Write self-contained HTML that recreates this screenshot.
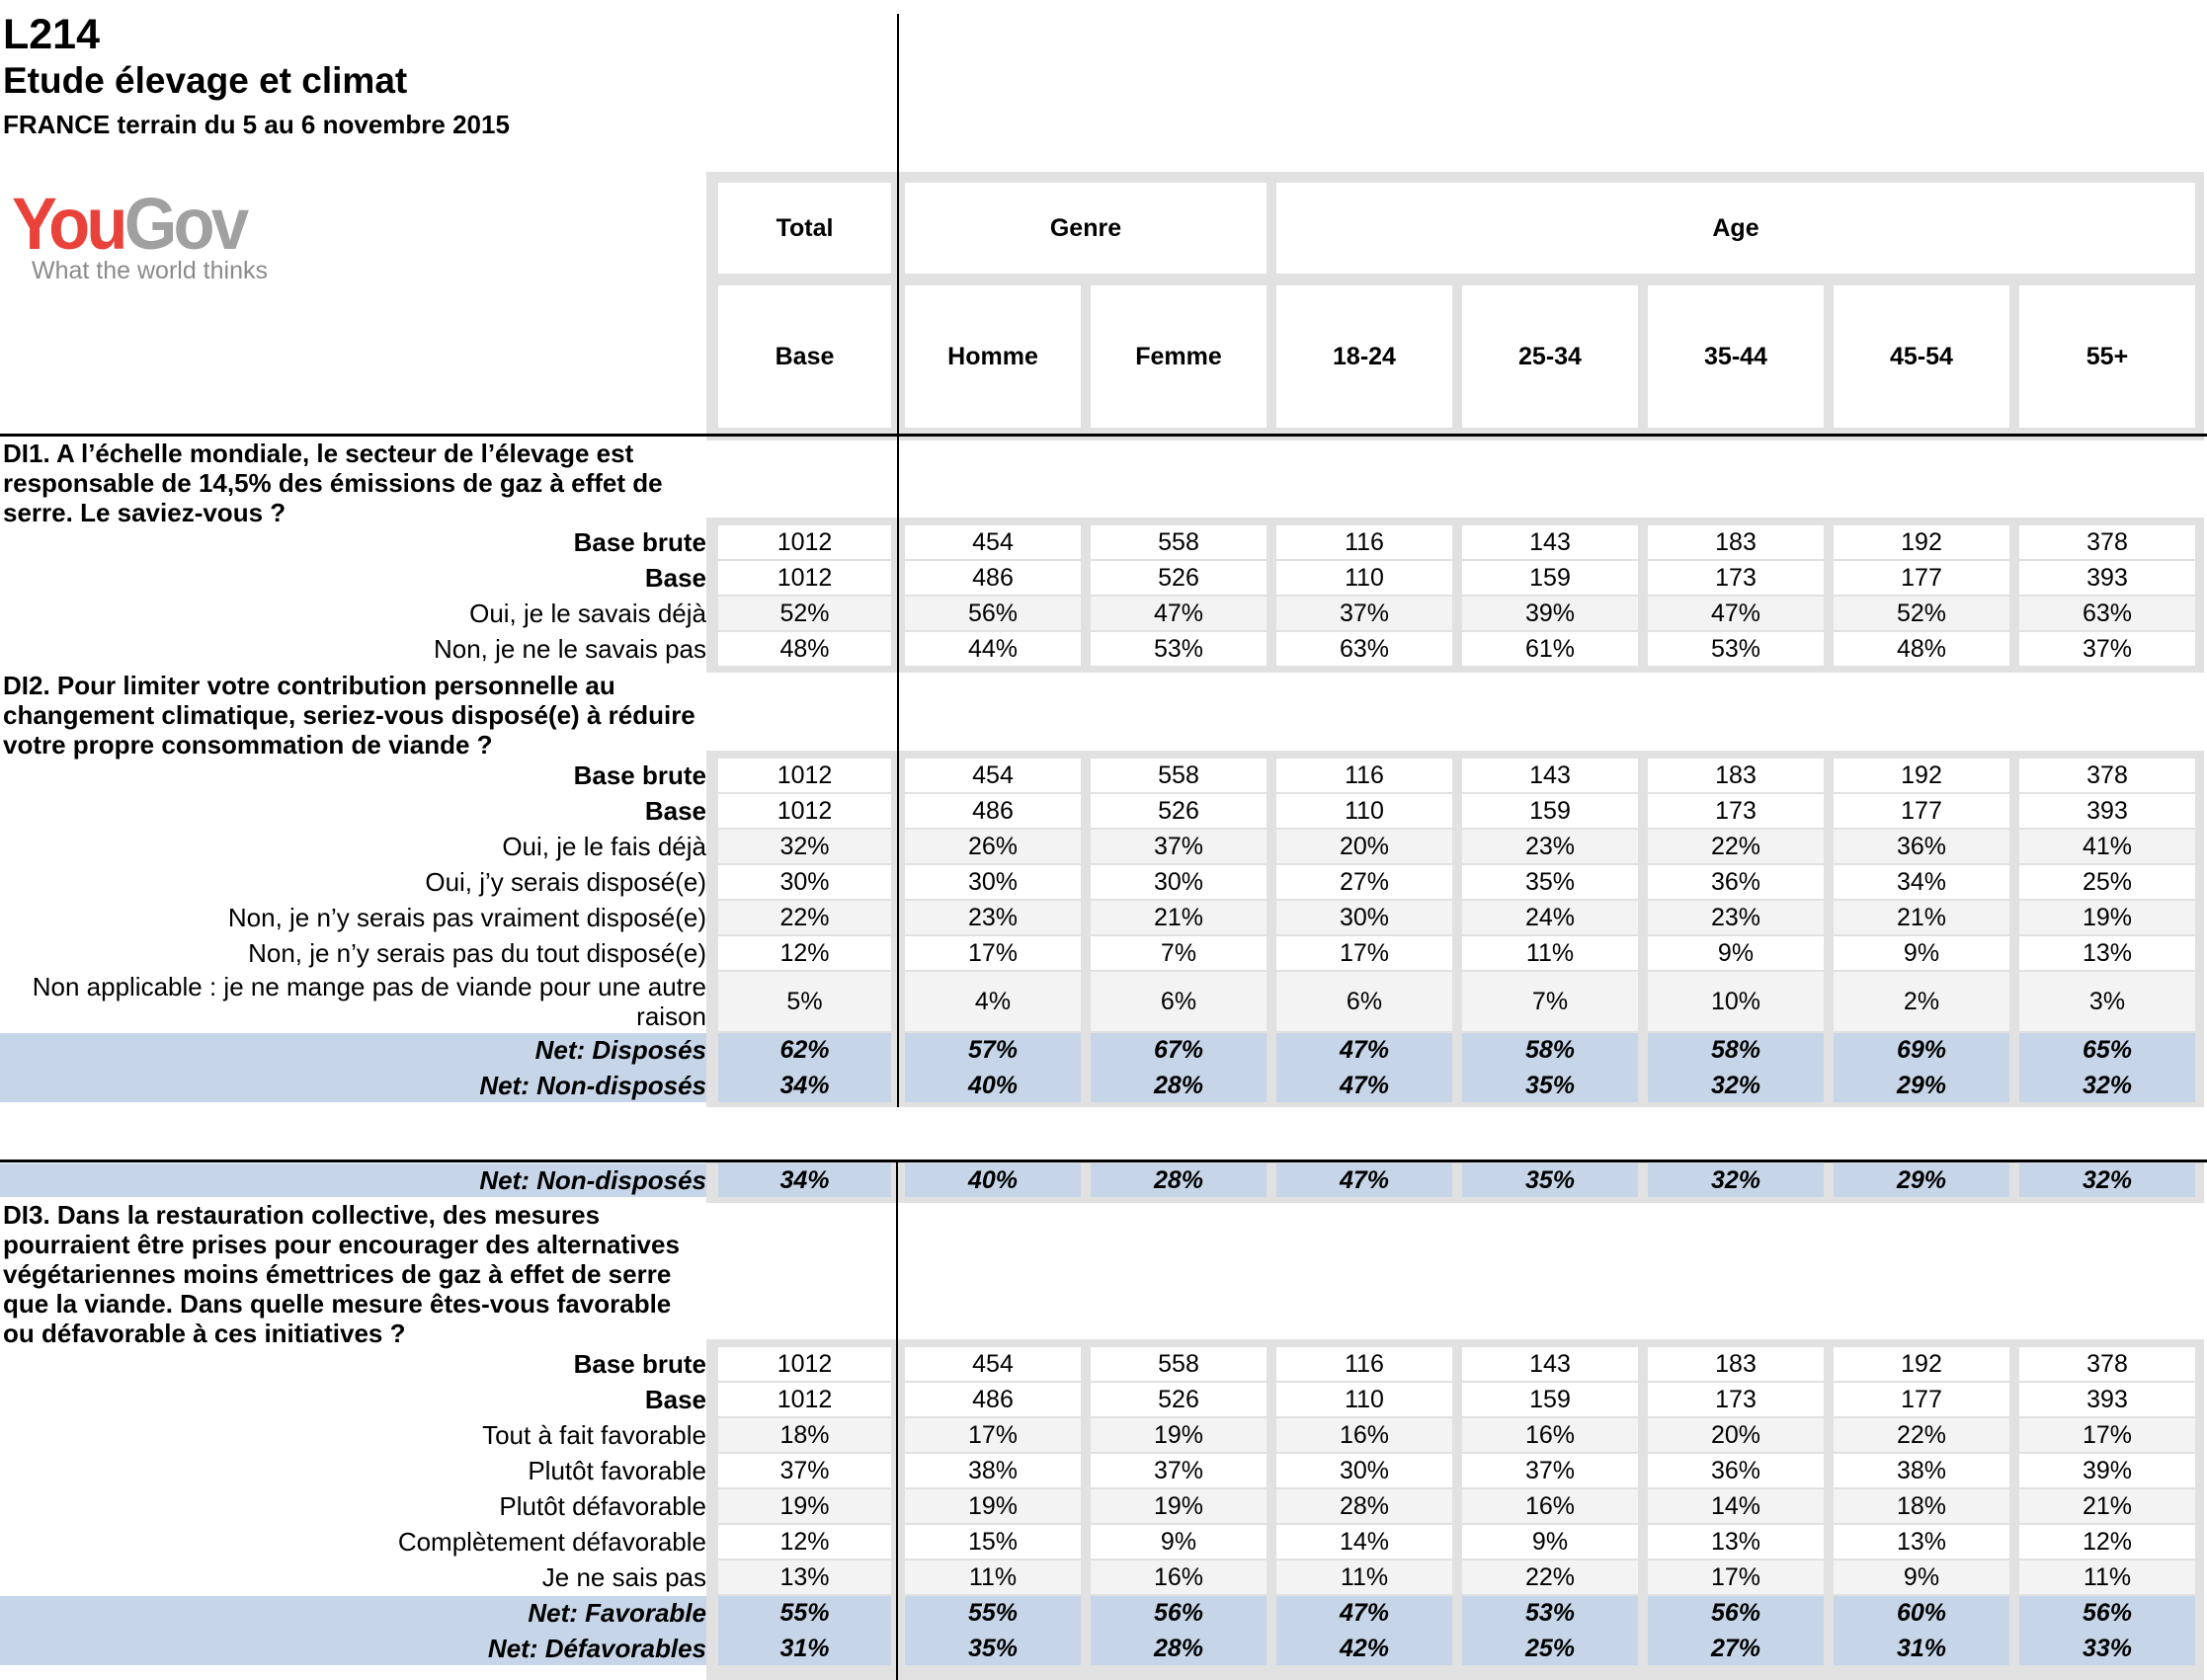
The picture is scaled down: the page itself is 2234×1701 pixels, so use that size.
<!DOCTYPE html>
<html><head><meta charset="utf-8"><style>
body{margin:0;width:2234px;height:1701px;background:#fff;position:relative;overflow:hidden;font-family:"Liberation Sans",Arial,sans-serif;color:#000}
.a{position:absolute}
.fr{position:absolute;left:715px;width:1516px;background:#e1e1e1}
.r{position:absolute;left:0;width:2234px;height:36px;font-size:25px;line-height:34px}
.l{position:absolute;left:0;width:715px;text-align:right;white-space:nowrap;height:34px;font-size:26px}
.v{position:absolute;top:0;height:34px;text-align:center;background:#fff}
.g .v{background:#f3f3f3}
.n .v,.n .l{background:#c6d6e8}
.n{font-weight:bold;font-style:italic}
.b .l{font-weight:bold}
.c0{left:727px;width:175px}.c1{left:916px;width:178px}.c2{left:1104px;width:178px}.c3{left:1292px;width:178px}
.c4{left:1480px;width:178px}.c5{left:1668px;width:178px}.c6{left:1856px;width:178px}.c7{left:2044px;width:178px}
.q{position:absolute;left:3px;font-size:26px;font-weight:bold;line-height:30px}
.h{position:absolute;background:#fff;font-size:25px;font-weight:bold;text-align:center}
</style></head><body>
<div class="a" style="left:3px;top:11px;font-size:43px;font-weight:bold">L214</div>
<div class="a" style="left:3px;top:61px;font-size:37px;font-weight:bold">Etude élevage et climat</div>
<div class="a" style="left:3px;top:111px;font-size:26px;font-weight:bold">FRANCE terrain du 5 au 6 novembre 2015</div>
<div class="a" style="left:12px;top:184px;font-size:74px;font-weight:bold;letter-spacing:-4px;transform:scaleX(0.93);transform-origin:left"><span style="color:#e8423a">You</span><span style="color:#a0a0a0">Gov</span></div>
<div class="a" style="left:32px;top:260px;font-size:25px;color:#8a8a8a">What the world thinks</div>

<div class="fr" style="top:174px;height:272px"></div>
<div class="h" style="left:727px;top:185px;width:175px;height:92px;line-height:92px">Total</div>
<div class="h" style="left:916px;top:185px;width:366px;height:92px;line-height:92px">Genre</div>
<div class="h" style="left:1292px;top:185px;width:930px;height:92px;line-height:92px">Age</div>
<div class="h c0" style="top:289px;height:144px;line-height:144px">Base</div>
<div class="h c1" style="top:289px;height:144px;line-height:144px">Homme</div>
<div class="h c2" style="top:289px;height:144px;line-height:144px">Femme</div>
<div class="h c3" style="top:289px;height:144px;line-height:144px">18-24</div>
<div class="h c4" style="top:289px;height:144px;line-height:144px">25-34</div>
<div class="h c5" style="top:289px;height:144px;line-height:144px">35-44</div>
<div class="h c6" style="top:289px;height:144px;line-height:144px">45-54</div>
<div class="h c7" style="top:289px;height:144px;line-height:144px">55+</div>
<div class="a" style="left:0;top:439px;width:2234px;height:3px;background:#000"></div>

<div class="q" style="top:444px">DI1. A l’échelle mondiale, le secteur de l’élevage est<br>responsable de 14,5% des émissions de gaz à effet de<br>serre. Le saviez-vous ?</div>
<div class="fr" style="top:524px;height:157px"></div>
<div class="r b" style="top:532px"><div class="l">Base brute</div><div class="v c0">1012</div><div class="v c1">454</div><div class="v c2">558</div><div class="v c3">116</div><div class="v c4">143</div><div class="v c5">183</div><div class="v c6">192</div><div class="v c7">378</div></div>
<div class="r b" style="top:568px"><div class="l">Base</div><div class="v c0">1012</div><div class="v c1">486</div><div class="v c2">526</div><div class="v c3">110</div><div class="v c4">159</div><div class="v c5">173</div><div class="v c6">177</div><div class="v c7">393</div></div>
<div class="r g" style="top:604px"><div class="l">Oui, je le savais déjà</div><div class="v c0">52%</div><div class="v c1">56%</div><div class="v c2">47%</div><div class="v c3">37%</div><div class="v c4">39%</div><div class="v c5">47%</div><div class="v c6">52%</div><div class="v c7">63%</div></div>
<div class="r" style="top:640px"><div class="l">Non, je ne le savais pas</div><div class="v c0">48%</div><div class="v c1">44%</div><div class="v c2">53%</div><div class="v c3">63%</div><div class="v c4">61%</div><div class="v c5">53%</div><div class="v c6">48%</div><div class="v c7">37%</div></div>

<div class="q" style="top:679px">DI2. Pour limiter votre contribution personnelle au<br>changement climatique, seriez-vous disposé(e) à réduire<br>votre propre consommation de viande ?</div>
<div class="fr" style="top:760px;height:361px"></div>
<div class="r b" style="top:768px"><div class="l">Base brute</div><div class="v c0">1012</div><div class="v c1">454</div><div class="v c2">558</div><div class="v c3">116</div><div class="v c4">143</div><div class="v c5">183</div><div class="v c6">192</div><div class="v c7">378</div></div>
<div class="r b" style="top:804px"><div class="l">Base</div><div class="v c0">1012</div><div class="v c1">486</div><div class="v c2">526</div><div class="v c3">110</div><div class="v c4">159</div><div class="v c5">173</div><div class="v c6">177</div><div class="v c7">393</div></div>
<div class="r g" style="top:840px"><div class="l">Oui, je le fais déjà</div><div class="v c0">32%</div><div class="v c1">26%</div><div class="v c2">37%</div><div class="v c3">20%</div><div class="v c4">23%</div><div class="v c5">22%</div><div class="v c6">36%</div><div class="v c7">41%</div></div>
<div class="r" style="top:876px"><div class="l">Oui, j’y serais disposé(e)</div><div class="v c0">30%</div><div class="v c1">30%</div><div class="v c2">30%</div><div class="v c3">27%</div><div class="v c4">35%</div><div class="v c5">36%</div><div class="v c6">34%</div><div class="v c7">25%</div></div>
<div class="r g" style="top:912px"><div class="l">Non, je n’y serais pas vraiment disposé(e)</div><div class="v c0">22%</div><div class="v c1">23%</div><div class="v c2">21%</div><div class="v c3">30%</div><div class="v c4">24%</div><div class="v c5">23%</div><div class="v c6">21%</div><div class="v c7">19%</div></div>
<div class="r" style="top:948px"><div class="l">Non, je n’y serais pas du tout disposé(e)</div><div class="v c0">12%</div><div class="v c1">17%</div><div class="v c2">7%</div><div class="v c3">17%</div><div class="v c4">11%</div><div class="v c5">9%</div><div class="v c6">9%</div><div class="v c7">13%</div></div>
<div class="r g" style="top:984px;height:62px"><div class="l" style="height:60px;line-height:30px;white-space:normal">Non applicable : je ne mange pas de viande pour une autre<br>raison</div><div class="v c0" style="height:60px;line-height:60px">5%</div><div class="v c1" style="height:60px;line-height:60px">4%</div><div class="v c2" style="height:60px;line-height:60px">6%</div><div class="v c3" style="height:60px;line-height:60px">6%</div><div class="v c4" style="height:60px;line-height:60px">7%</div><div class="v c5" style="height:60px;line-height:60px">10%</div><div class="v c6" style="height:60px;line-height:60px">2%</div><div class="v c7" style="height:60px;line-height:60px">3%</div></div>
<div class="r n" style="top:1046px"><div class="l" style="height:36px">Net: Disposés</div><div class="v c0" style="height:36px">62%</div><div class="v c1" style="height:36px">57%</div><div class="v c2" style="height:36px">67%</div><div class="v c3" style="height:36px">47%</div><div class="v c4" style="height:36px">58%</div><div class="v c5" style="height:36px">58%</div><div class="v c6" style="height:36px">69%</div><div class="v c7" style="height:36px">65%</div></div>
<div class="r n" style="top:1082px"><div class="l">Net: Non-disposés</div><div class="v c0">34%</div><div class="v c1">40%</div><div class="v c2">28%</div><div class="v c3">47%</div><div class="v c4">35%</div><div class="v c5">32%</div><div class="v c6">29%</div><div class="v c7">32%</div></div>
<div class="a" style="left:908px;top:14px;width:2px;height:1107px;background:#000"></div>

<div class="fr" style="top:1175px;height:43px"></div>
<div class="r n" style="top:1178px"><div class="l">Net: Non-disposés</div><div class="v c0">34%</div><div class="v c1">40%</div><div class="v c2">28%</div><div class="v c3">47%</div><div class="v c4">35%</div><div class="v c5">32%</div><div class="v c6">29%</div><div class="v c7">32%</div></div>
<div class="a" style="left:0;top:1174px;width:2234px;height:3px;background:#000"></div>

<div class="q" style="top:1215px">DI3. Dans la restauration collective, des mesures<br>pourraient être prises pour encourager des alternatives<br>végétariennes moins émettrices de gaz à effet de serre<br>que la viande. Dans quelle mesure êtes-vous favorable<br>ou défavorable à ces initiatives ?</div>
<div class="fr" style="top:1356px;height:345px"></div>
<div class="r b" style="top:1364px"><div class="l">Base brute</div><div class="v c0">1012</div><div class="v c1">454</div><div class="v c2">558</div><div class="v c3">116</div><div class="v c4">143</div><div class="v c5">183</div><div class="v c6">192</div><div class="v c7">378</div></div>
<div class="r b" style="top:1400px"><div class="l">Base</div><div class="v c0">1012</div><div class="v c1">486</div><div class="v c2">526</div><div class="v c3">110</div><div class="v c4">159</div><div class="v c5">173</div><div class="v c6">177</div><div class="v c7">393</div></div>
<div class="r g" style="top:1436px"><div class="l">Tout à fait favorable</div><div class="v c0">18%</div><div class="v c1">17%</div><div class="v c2">19%</div><div class="v c3">16%</div><div class="v c4">16%</div><div class="v c5">20%</div><div class="v c6">22%</div><div class="v c7">17%</div></div>
<div class="r" style="top:1472px"><div class="l">Plutôt favorable</div><div class="v c0">37%</div><div class="v c1">38%</div><div class="v c2">37%</div><div class="v c3">30%</div><div class="v c4">37%</div><div class="v c5">36%</div><div class="v c6">38%</div><div class="v c7">39%</div></div>
<div class="r g" style="top:1508px"><div class="l">Plutôt défavorable</div><div class="v c0">19%</div><div class="v c1">19%</div><div class="v c2">19%</div><div class="v c3">28%</div><div class="v c4">16%</div><div class="v c5">14%</div><div class="v c6">18%</div><div class="v c7">21%</div></div>
<div class="r" style="top:1544px"><div class="l">Complètement défavorable</div><div class="v c0">12%</div><div class="v c1">15%</div><div class="v c2">9%</div><div class="v c3">14%</div><div class="v c4">9%</div><div class="v c5">13%</div><div class="v c6">13%</div><div class="v c7">12%</div></div>
<div class="r g" style="top:1580px"><div class="l">Je ne sais pas</div><div class="v c0">13%</div><div class="v c1">11%</div><div class="v c2">16%</div><div class="v c3">11%</div><div class="v c4">22%</div><div class="v c5">17%</div><div class="v c6">9%</div><div class="v c7">11%</div></div>
<div class="r n" style="top:1616px"><div class="l" style="height:36px">Net: Favorable</div><div class="v c0" style="height:36px">55%</div><div class="v c1" style="height:36px">55%</div><div class="v c2" style="height:36px">56%</div><div class="v c3" style="height:36px">47%</div><div class="v c4" style="height:36px">53%</div><div class="v c5" style="height:36px">56%</div><div class="v c6" style="height:36px">60%</div><div class="v c7" style="height:36px">56%</div></div>
<div class="r n" style="top:1652px"><div class="l">Net: Défavorables</div><div class="v c0">31%</div><div class="v c1">35%</div><div class="v c2">28%</div><div class="v c3">42%</div><div class="v c4">25%</div><div class="v c5">27%</div><div class="v c6">31%</div><div class="v c7">33%</div></div>
<div class="a" style="left:907px;top:1175px;width:2px;height:526px;background:#000"></div>
</body></html>
